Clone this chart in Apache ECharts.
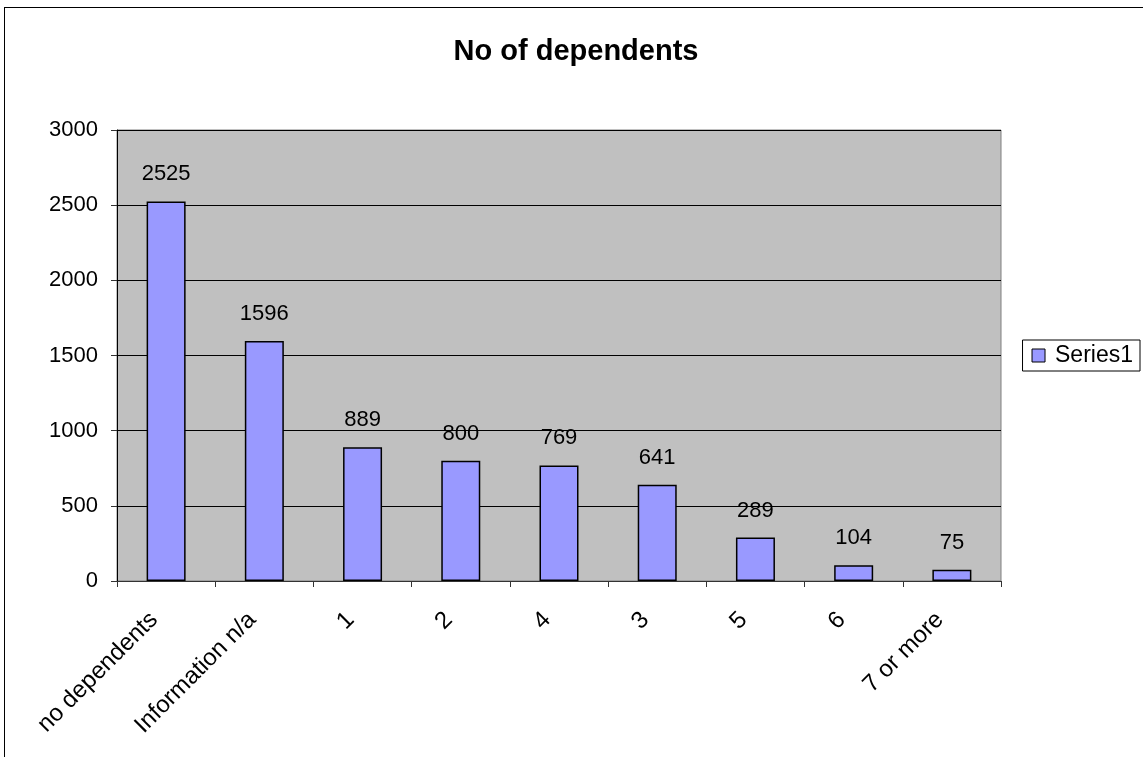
<!DOCTYPE html>
<html>
<head>
<meta charset="utf-8">
<script src="https://cdn.jsdelivr.net/npm/echarts@6/dist/echarts.min.js"></script>
<style>
  html, body { margin: 0; padding: 0; background: #fff; }
  #frame { position: absolute; left: 4px; top: 7px; width: 1145px; height: 760px;
           border-left: 1px solid #000; border-top: 1px solid #000; }
  #chart { position: absolute; left: 0; top: 0; width: 1143px; height: 757px; }
</style>
</head>
<body>
<div id="frame"></div>
<div id="chart"></div>
<script>
const categories = ['no dependents', 'Information n/a', '1', '2', '4', '3', '5', '6', '7 or more'];
const values = [2525, 1596, 889, 800, 769, 641, 289, 104, 75];
const seriesName = 'Series1';

const myChart = echarts.init(document.getElementById('chart'));

const font = 'Liberation Sans, Arial, sans-serif';

const option = {
  animation: false,
  title: {
    text: 'No of dependents',
    left: 571,
    top: 32,
    textAlign: 'center',
    textStyle: { fontFamily: font, fontSize: 29, fontWeight: 'bold', color: '#000' },
  },
  legend: {
    data: [seriesName],
    right: 3,
    top: 340,
    orient: 'vertical',
    backgroundColor: '#fff',
    borderColor: '#000',
    borderWidth: 1,
    borderRadius: 0,
    padding: [4, 7, 4, 9],
    itemWidth: 13,
    itemHeight: 13,
    itemGap: 0,
    icon: 'rect',
    itemStyle: { borderColor: '#000', borderWidth: 1 },
    textStyle: { fontFamily: font, fontSize: 23, color: '#000', padding: [0, 0, 0, 5] },
  },
  grid: {
    left: 117,
    right: 142,
    top: 130,
    bottom: 176,
    show: true,
    backgroundColor: '#C0C0C0',
    borderColor: '#808080',
    borderWidth: 1,
  },
  xAxis: {
    type: 'category',
    data: categories,
    axisLine: { lineStyle: { color: '#333', width: 1 } },
    axisTick: { show: true, alignWithLabel: false, length: 6, lineStyle: { color: '#333' } },
    axisLabel: {
      rotate: 45,
      interval: 0,
      margin: 23,
      padding: [0, 17, 0, 0],
      fontFamily: font,
      fontSize: 24,
      color: '#000',
    },
  },
  yAxis: {
    type: 'value',
    min: 0,
    max: 3000,
    interval: 500,
    axisLine: { show: true, lineStyle: { color: '#000', width: 1 } },
    axisTick: { show: true, length: 6, lineStyle: { color: '#333' } },
    axisLabel: { fontFamily: font, fontSize: 22, color: '#000', margin: 19, formatter: v => String(v) },
    splitLine: { show: true, lineStyle: { color: '#000', width: 1 } },
  },
  series: [{
    name: seriesName,
    type: 'bar',
    data: values,
    barWidth: 39,
    itemStyle: { color: '#9999FF', borderColor: '#000', borderWidth: 1.5 },
    label: {
      show: true,
      position: 'top',
      distance: 16,
      fontFamily: font,
      fontSize: 22,
      color: '#000',
    },
  }],
};

myChart.setOption(option);
</script>
</body>
</html>
